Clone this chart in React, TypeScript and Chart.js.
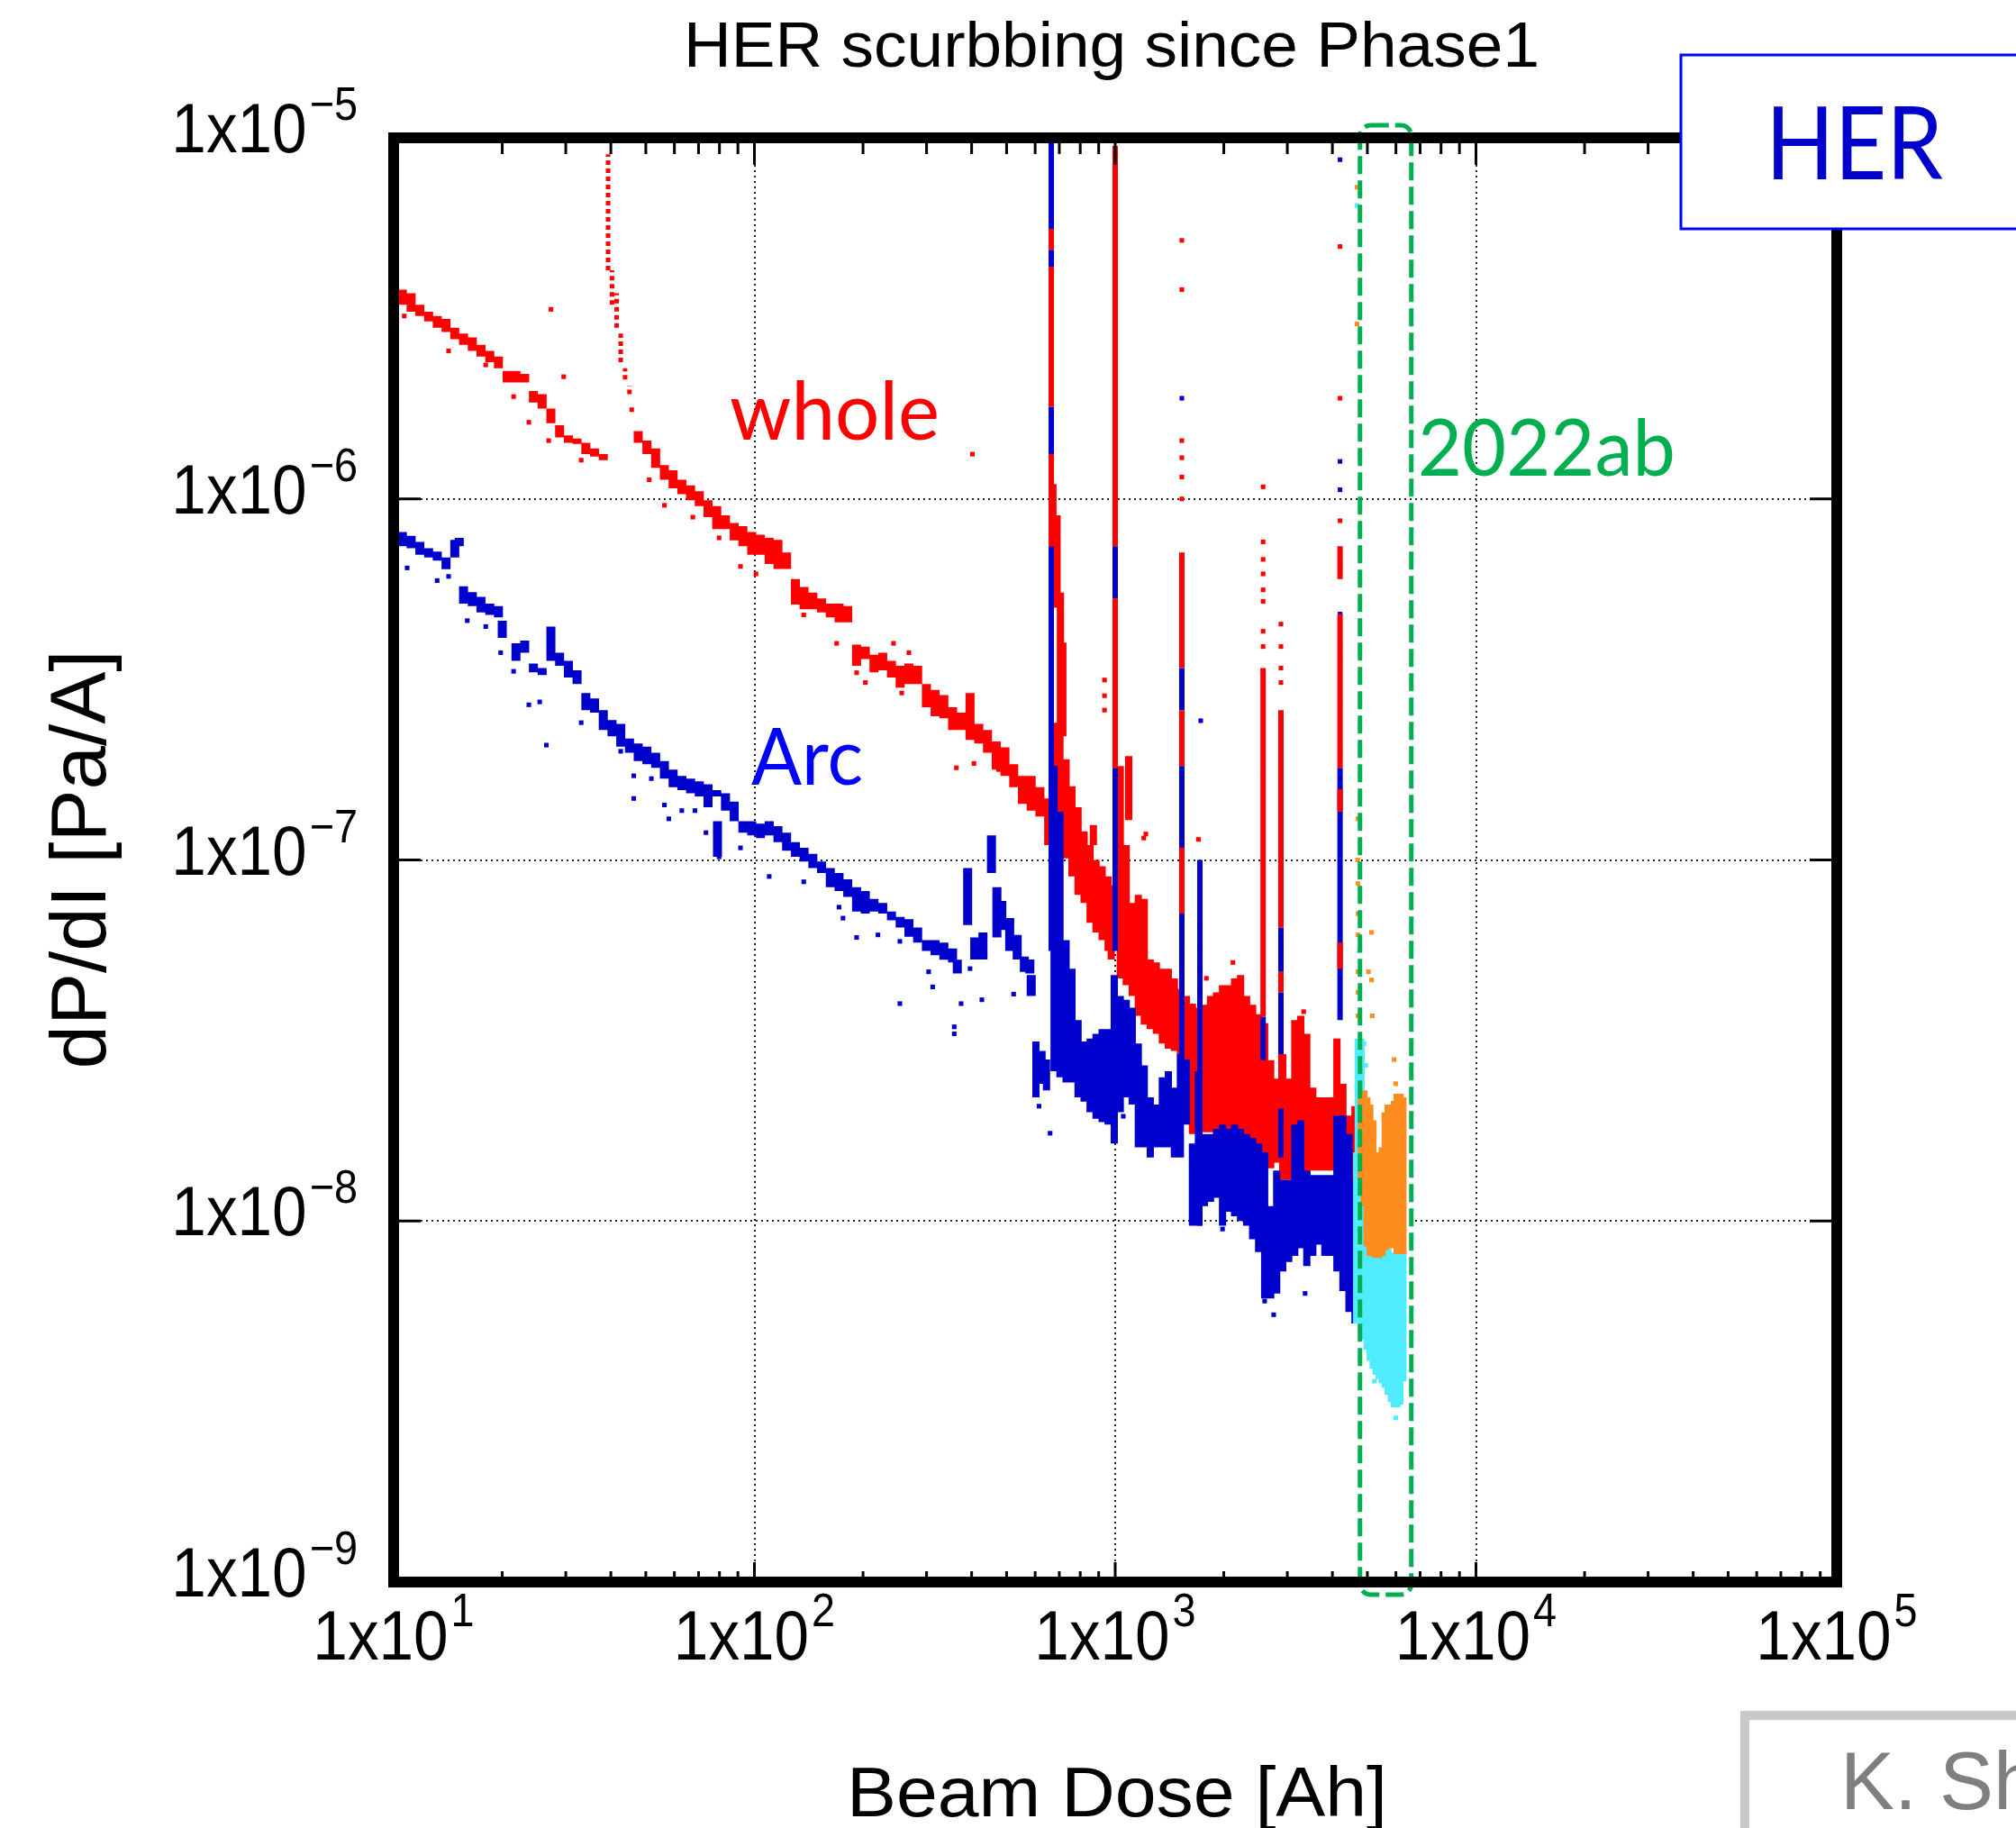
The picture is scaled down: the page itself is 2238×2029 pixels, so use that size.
import { useEffect, useRef } from 'react';
import { Chart, registerables } from 'chart.js';

Chart.register(...registerables);

// ---------------------------------------------------------------------------
// Axis ticks
// ---------------------------------------------------------------------------
const X_DECADES = [10, 100, 1000, 10000, 100000];
const X_EXPONENTS = ['1', '2', '3', '4', '5'];
const Y_DECADES = [1e-5, 1e-6, 1e-7, 1e-8, 1e-9];
const Y_EXPONENTS = ['\u22125', '\u22126', '\u22127', '\u22128', '\u22129'];
const MINOR_MULTIPLES = [2, 3, 4, 5, 6, 7, 8, 9];

// 2022ab run, beam dose range [Ah]
const RUN_2022AB: [number, number] = [4770, 6620];

// ---------------------------------------------------------------------------
// Measured dP/dI [Pa/A] vs beam dose [Ah]
// Bands are [dose, dP/dI low, dP/dI high]; dots are [dose, dP/dI].
// ---------------------------------------------------------------------------
type Band = [number, number, number];
type Dot = [number, number];

// whole ring, conditioning trend
const WHOLE_TREND: Band[] = [
  [10.0, 3.62e-6, 3.85e-6], [10.57, 3.45e-6, 3.8e-6], [11.18, 3.3e-6, 3.71e-6],
  [11.82, 3.21e-6, 3.45e-6], [12.5, 3.1e-6, 3.3e-6], [13.21, 2.98e-6, 3.21e-6],
  [13.97, 2.9e-6, 3.15e-6], [14.77, 2.77e-6, 2.98e-6], [15.62, 2.67e-6, 2.87e-6],
  [16.52, 2.57e-6, 2.8e-6], [17.46, 2.48e-6, 2.67e-6], [18.47, 2.39e-6, 2.57e-6],
  [19.52, 2.3e-6, 2.48e-6], [20.64, 2.1e-6, 2.26e-6], [21.83, 2.1e-6, 2.26e-6],
  [23.08, 2.1e-6, 2.22e-6], [24.4, 1.85e-6, 1.99e-6], [25.8, 1.78e-6, 1.95e-6],
  [27.28, 1.62e-6, 1.78e-6], [28.84, 1.48e-6, 1.6e-6], [30.5, 1.43e-6, 1.5e-6],
  [32.24, 1.42e-6, 1.47e-6], [34.1, 1.33e-6, 1.43e-6], [36.05, 1.31e-6, 1.38e-6],
  [38.11, 1.28e-6, 1.33e-6],
  [47.63, 1.43e-6, 1.54e-6], [50.35, 1.33e-6, 1.45e-6], [53.24, 1.22e-6, 1.38e-6],
  [56.29, 1.13e-6, 1.24e-6], [59.51, 1.07e-6, 1.2e-6], [62.92, 1.03e-6, 1.13e-6],
  [66.53, 9.92e-7, 1.09e-6], [70.34, 9.55e-7, 1.05e-6], [74.37, 8.9e-7, 9.92e-7],
  [78.63, 8.25e-7, 9.55e-7], [83.13, 8.25e-7, 9.0e-7], [87.9, 7.68e-7, 8.57e-7],
  [92.9, 7.4e-7, 8.4e-7], [98.3, 7.0e-7, 8.1e-7], [103.9, 7.0e-7, 7.96e-7],
  [109.9, 6.6e-7, 7.8e-7], [116.2, 6.4e-7, 7.7e-7], [122.8, 6.4e-7, 7.1e-7],
  [129.9, 5.1e-7, 6.0e-7], [137.3, 4.95e-7, 5.7e-7], [145.2, 4.95e-7, 5.5e-7],
  [153.5, 4.85e-7, 5.3e-7], [162.3, 4.7e-7, 5.13e-7], [171.6, 4.55e-7, 5.13e-7],
  [181.4, 4.55e-7, 5.05e-7], [191.9, 3.45e-7, 3.95e-7], [202.9, 3.6e-7, 3.9e-7],
  [214.5, 3.31e-7, 3.7e-7], [226.8, 3.35e-7, 3.75e-7], [239.8, 3.2e-7, 3.56e-7],
  [253.5, 3.0e-7, 3.45e-7], [268.1, 3.07e-7, 3.5e-7], [283.4, 3.07e-7, 3.45e-7],
  [299.7, 2.65e-7, 3.07e-7], [316.8, 2.5e-7, 2.96e-7], [335.0, 2.47e-7, 2.86e-7],
  [354.2, 2.29e-7, 2.65e-7], [374.5, 2.29e-7, 2.56e-7], [396, 2.15e-7, 2.9e-7],
  [418.7, 2.1e-7, 2.38e-7], [442.7, 1.98e-7, 2.29e-7], [468.1, 1.78e-7, 2.13e-7],
  [494.9, 1.71e-7, 2.05e-7], [523.3, 1.59e-7, 1.84e-7], [553.3, 1.43e-7, 1.71e-7],
  [585, 1.37e-7, 1.71e-7], [618.5, 1.32e-7, 1.59e-7], [654, 1.1e-7, 1.48e-7],
];

// whole ring, dense period after Phase 2 start
const WHOLE_BODY: Band[] = [
  [672, 5.5e-7, 1.1e-6], [677, 1.3e-7, 2.4e-7], [690, 5.0e-7, 9.0e-7],
  [703, 1.08e-7, 2.4e-7], [705, 2.4e-7, 5.5e-7], [716, 2.2e-7, 4.0e-7],
  [731, 1.01e-7, 1.9e-7], [759, 9.0e-8, 1.6e-7], [789, 8.0e-8, 1.4e-7],
  [820, 7.6e-8, 1.2e-7], [852, 6.7e-8, 1.1e-7], [870, 1.1e-7, 1.25e-7],
  [885, 6.3e-8, 1.0e-7], [920, 6.0e-8, 9.6e-8], [956, 5.6e-8, 9.0e-8],
  [975, 5.3e-8, 8.5e-8], [1033, 4.7e-8, 1.82e-7], [1073, 4.5e-8, 1.1e-7],
  [1090, 1.29e-7, 1.94e-7], [1115, 4.2e-8, 7.6e-8], [1159, 3.7e-8, 8.0e-8],
  [1204, 3.5e-8, 7.8e-8], [1251, 3.4e-8, 5.3e-8], [1300, 3.3e-8, 5.2e-8],
  [1351, 3.1e-8, 5.0e-8], [1404, 3.0e-8, 5.0e-8], [1459, 2.96e-8, 4.7e-8],
  [1516, 2.9e-8, 4.4e-8], [1575, 2.8e-8, 4.2e-8], [1637, 1.74e-8, 4.0e-8],
  [1701, 1.74e-8, 3.9e-8], [1768, 1.76e-8, 3.97e-8], [1837, 1.76e-8, 4.2e-8],
  [1909, 1.8e-8, 4.3e-8], [1984, 1.8e-8, 4.5e-8], [2062, 1.76e-8, 4.5e-8],
  [2142, 1.74e-8, 4.7e-8], [2226, 1.7e-8, 4.8e-8], [2313, 1.7e-8, 4.2e-8],
  [2404, 1.64e-8, 3.97e-8], [2498, 1.5e-8, 3.74e-8], [2596, 1.4e-8, 3.53e-8],
  [2698, 1.4e-8, 2.79e-8], [2803, 1.45e-8, 2.48e-8], [2913, 1.3e-8, 2.9e-8],
  [3027, 1.3e-8, 2.48e-8], [3146, 1.26e-8, 3.6e-8], [3269, 1.3e-8, 3.7e-8],
  [3397, 1.26e-8, 3.3e-8], [3530, 1.38e-8, 2.34e-8], [3668, 1.38e-8, 2.2e-8],
  [3812, 1.38e-8, 2.2e-8], [3962, 1.38e-8, 2.2e-8], [4117, 1.96e-8, 3.2e-8],
  [4278, 1.6e-8, 2.4e-8], [4446, 1.38e-8, 1.96e-8], [4620, 1.3e-8, 2.08e-8],
];

// whole ring, first burst near 40 Ah (sparse dotted streak)
const WHOLE_BURST_40: Band[] = [
  [39.3, 4.3e-6, 9.0e-6], [40.3, 3.45e-6, 4.3e-6], [41.5, 2.98e-6, 3.71e-6],
  [42.6, 2.39e-6, 2.87e-6], [43.8, 2.14e-6, 2.3e-6], [45.05, 1.95e-6, 2.06e-6],
  [45.7, 1.74e-6, 1.8e-6],
];

// whole ring, later pressure bursts (vertical streaks)
const WHOLE_SPIKES: Band[] = [
  [665, 4.9e-6, 5.6e-6], [665, 1.8e-6, 4.4e-6], [665, 7.4e-7, 1.33e-6],
  [1000, 7.4e-7, 9.5e-6], [1000, 1.8e-7, 5.3e-7],
  [1530, 3.4e-7, 7.1e-7], [1530, 1.82e-7, 2.6e-7], [1530, 7.1e-8, 1.08e-7],
  [2570, 3.68e-8, 3.4e-7],
  [2880, 6.5e-8, 2.6e-7], [2880, 4.3e-8, 4.9e-8], [2880, 2.05e-8, 2.9e-8],
  [4200, 6.0e-7, 7.4e-7], [4200, 1.8e-7, 4.8e-7], [4200, 1.36e-7, 1.57e-7],
  [4200, 5.0e-8, 5.9e-8],
];

const WHOLE_DOTS: Dot[] = [
  [10.7, 3.21e-6], [14.2, 2.57e-6], [18.0, 2.35e-6], [21.5, 1.92e-6], [23.7, 1.63e-6],
  [26.9, 1.45e-6], [27.3, 3.35e-6], [29.6, 2.18e-6], [33.1, 1.28e-6], [51.1, 1.13e-6],
  [56.3, 9.6e-7], [67.5, 8.9e-7], [79.8, 7.8e-7], [91.5, 6.5e-7], [101, 6.2e-7],
  [137, 4.77e-7], [169, 3.98e-7], [192, 3.3e-7], [203, 3.1e-7], [243, 3.98e-7],
  [256, 2.9e-7], [268, 3.75e-7], [363, 1.8e-7], [402, 1.33e-6], [406, 1.85e-7],
  [475, 1.78e-7], [934, 3.15e-7], [934, 2.85e-7], [934, 2.6e-7], [1200, 1.15e-7],
  [1216, 1.18e-7], [1530, 5.2e-6], [1530, 3.8e-6], [1530, 1.45e-6], [1530, 1.3e-6],
  [1530, 1.15e-6], [1530, 1.0e-6], [1701, 1.14e-7], [1790, 4.7e-8], [2120, 5.2e-8],
  [2570, 1.08e-6], [2570, 7.6e-7], [2570, 6.8e-7], [2570, 6.2e-7], [2570, 5.6e-7],
  [2570, 5.2e-7], [2570, 4.3e-7], [2570, 3.9e-7], [2880, 4.5e-7], [2880, 3.9e-7],
  [2880, 3.4e-7], [2880, 3.1e-7], [3330, 3.8e-8], [4200, 5.0e-6], [4200, 1.9e-6],
  [4200, 8.7e-7],
];

// arc section, conditioning trend
const ARC_TREND: Band[] = [
  [10.0, 7.8e-7, 8.5e-7], [10.57, 7.4e-7, 8.1e-7], [11.18, 7.3e-7, 7.9e-7],
  [11.82, 7.0e-7, 7.6e-7], [12.5, 6.88e-7, 7.3e-7], [13.21, 6.75e-7, 7.15e-7],
  [13.97, 6.39e-7, 6.88e-7], [14.77, 6.88e-7, 7.7e-7], [15.2, 7.4e-7, 7.8e-7],
  [15.62, 5.13e-7, 5.73e-7], [16.52, 5.05e-7, 5.52e-7], [17.46, 4.85e-7, 5.35e-7],
  [18.47, 4.77e-7, 5.13e-7], [19.52, 4.7e-7, 5.05e-7], [20.0, 4.12e-7, 4.6e-7],
  [21.83, 3.56e-7, 3.98e-7], [23.08, 3.75e-7, 4.05e-7], [24.4, 3.31e-7, 3.5e-7],
  [25.8, 3.25e-7, 3.4e-7], [27.28, 3.56e-7, 4.43e-7], [28.84, 3.45e-7, 3.75e-7],
  [30.5, 3.2e-7, 3.56e-7], [32.24, 3.07e-7, 3.35e-7], [34.1, 2.6e-7, 2.9e-7],
  [36.05, 2.56e-7, 2.8e-7], [38.11, 2.29e-7, 2.6e-7], [40.3, 2.2e-7, 2.44e-7],
  [42.61, 2.06e-7, 2.38e-7], [45.05, 1.98e-7, 2.17e-7], [47.63, 1.88e-7, 2.1e-7],
  [50.35, 1.84e-7, 2.06e-7], [53.24, 1.8e-7, 1.98e-7], [56.29, 1.68e-7, 1.88e-7],
  [59.51, 1.59e-7, 1.78e-7], [62.92, 1.56e-7, 1.71e-7], [66.53, 1.53e-7, 1.68e-7],
  [70.34, 1.5e-7, 1.65e-7], [74.37, 1.4e-7, 1.62e-7], [78.63, 1.5e-7, 1.56e-7],
  [79.0, 1.02e-7, 1.28e-7], [83.13, 1.37e-7, 1.53e-7], [87.9, 1.28e-7, 1.45e-7],
  [92.9, 1.19e-7, 1.28e-7], [98.3, 1.17e-7, 1.28e-7], [103.9, 1.15e-7, 1.26e-7],
  [109.9, 1.17e-7, 1.28e-7], [116.2, 1.12e-7, 1.24e-7], [122.8, 1.06e-7, 1.19e-7],
  [129.9, 1.02e-7, 1.12e-7], [137.3, 9.9e-8, 1.08e-7], [145.2, 9.5e-8, 1.04e-7],
  [153.5, 9.2e-8, 9.9e-8], [162.3, 8.4e-8, 9.5e-8], [171.6, 8.2e-8, 9.2e-8],
  [181.4, 7.9e-8, 8.84e-8], [191.9, 7.2e-8, 8.4e-8], [202.9, 7.1e-8, 8.2e-8],
  [214.5, 7.2e-8, 7.8e-8], [226.8, 7.1e-8, 7.6e-8], [239.8, 6.8e-8, 7.2e-8],
  [253.5, 6.5e-8, 6.95e-8], [268.1, 6.13e-8, 6.85e-8], [283.4, 5.9e-8, 6.5e-8],
  [299.7, 5.6e-8, 6.0e-8], [316.8, 5.45e-8, 6.0e-8], [335, 5.29e-8, 5.9e-8],
  [354.2, 5.2e-8, 5.69e-8], [365, 4.85e-8, 5.29e-8], [390, 6.6e-8, 9.5e-8],
  [408, 5.3e-8, 6.1e-8], [430, 5.3e-8, 6.3e-8], [454, 9.2e-8, 1.17e-7],
  [470, 6.1e-8, 8.4e-8], [485, 6.4e-8, 7.7e-8], [510, 5.6e-8, 6.9e-8],
  [535, 5.3e-8, 6.2e-8], [560, 4.9e-8, 5.4e-8], [580, 4.85e-8, 5.3e-8],
  [585, 4.2e-8, 4.8e-8],
];

const ARC_BODY: Band[] = [
  [603, 2.2e-8, 3.14e-8], [627, 2.4e-8, 2.96e-8], [645, 2.3e-8, 2.8e-8],
  [677, 2.6e-8, 1.82e-7], [703, 2.5e-8, 1.36e-7], [731, 2.42e-8, 6.0e-8],
  [759, 2.42e-8, 5.0e-8], [789, 2.2e-8, 3.6e-8], [820, 2.14e-8, 3.14e-8],
  [852, 2.0e-8, 3.2e-8], [885, 1.92e-8, 3.3e-8], [920, 1.88e-8, 3.4e-8],
  [956, 1.85e-8, 3.4e-8], [994, 1.64e-8, 4.8e-8], [1033, 2.0e-8, 4.2e-8],
  [1073, 2.2e-8, 4.1e-8], [1115, 2.1e-8, 3.9e-8], [1159, 1.6e-8, 3.1e-8],
  [1204, 1.6e-8, 2.7e-8], [1251, 1.5e-8, 2.2e-8], [1300, 1.6e-8, 2.1e-8],
  [1351, 1.6e-8, 2.5e-8], [1404, 1.6e-8, 2.6e-8], [1459, 1.5e-8, 2.34e-8],
  [1516, 1.5e-8, 2.9e-8], [1575, 1.85e-8, 2.8e-8], [1637, 9.7e-9, 1.64e-8],
  [1701, 9.7e-9, 2.6e-8], [1768, 1.1e-8, 1.74e-8], [1837, 1.13e-8, 1.74e-8],
  [1909, 1.16e-8, 1.8e-8], [1984, 9.7e-9, 1.85e-8], [2062, 1.06e-8, 1.8e-8],
  [2142, 1.03e-8, 1.85e-8], [2226, 1.0e-8, 1.8e-8], [2313, 9.7e-9, 1.74e-8],
  [2404, 8.9e-9, 1.7e-8], [2498, 8.2e-9, 1.64e-8], [2596, 6.1e-9, 1.55e-8],
  [2698, 6.1e-9, 1.1e-8], [2803, 6.3e-9, 1.38e-8], [2913, 7.25e-9, 1.3e-8],
  [3027, 7.7e-9, 1.3e-8], [3146, 8.0e-9, 1.85e-8], [3269, 8.4e-9, 1.9e-8],
  [3397, 7.5e-9, 1.38e-8], [3530, 8.0e-9, 1.34e-8], [3668, 8.6e-9, 1.34e-8],
  [3812, 8.0e-9, 1.34e-8], [3962, 8.0e-9, 1.34e-8], [4117, 7.25e-9, 1.96e-8],
  [4278, 6.4e-9, 1.96e-8], [4446, 5.6e-9, 1.74e-8], [4620, 5.2e-9, 1.3e-8],
];

const ARC_SPIKES: Band[] = [
  [665, 5.6e-6, 1.0e-5], [665, 4.4e-6, 4.9e-6], [665, 1.33e-6, 1.8e-6],
  [665, 5.6e-8, 7.4e-7],
  [1000, 5.3e-7, 7.4e-7], [1000, 5.6e-8, 1.8e-7],
  [1530, 2.6e-7, 3.4e-7], [1530, 1.08e-7, 1.82e-7], [1530, 2.79e-8, 7.1e-8],
  [1717, 9.7e-9, 1.0e-7],
  [2570, 2.79e-8, 3.68e-8],
  [2880, 4.9e-8, 6.5e-8], [2880, 2.9e-8, 4.3e-8], [2880, 1.5e-8, 2.05e-8],
  [4200, 3.6e-8, 1.8e-7],
];

const ARC_DOTS: Dot[] = [
  [10.9, 6.44e-7], [13.2, 5.94e-7], [14.2, 6.1e-7], [16.0, 4.6e-7], [18.0, 4.43e-7],
  [19.8, 3.75e-7], [21.5, 3.33e-7], [23.7, 2.69e-7], [25.4, 2.74e-7], [26.5, 2.08e-7],
  [33.1, 2.4e-7], [42.6, 2.0e-7], [46.3, 1.71e-7], [46.3, 1.48e-7], [51.8, 1.68e-7],
  [56.3, 1.42e-7], [57.9, 1.3e-7], [62.9, 1.37e-7], [68.4, 1.37e-7], [73.4, 1.19e-7],
  [79.8, 1.02e-7], [91.5, 1.08e-7], [109.9, 9.0e-8], [137, 8.7e-8], [171.6, 7.4e-8],
  [176, 6.9e-8], [192, 6.1e-8], [220, 6.2e-8], [253, 5.95e-8], [253, 4.0e-8],
  [304, 4.9e-8], [312, 4.45e-8], [358, 3.3e-8], [358, 3.45e-8], [374, 4.0e-8],
  [396, 5.0e-8], [427, 4.1e-8], [523, 4.25e-8], [615, 2.08e-8], [660, 1.75e-8],
  [1053, 1.95e-8], [1530, 1.9e-6], [1726, 2.43e-7], [1984, 9.5e-9], [2596, 6.0e-9],
  [2750, 5.5e-9], [3360, 6.3e-9], [4200, 8.7e-6], [4200, 1.27e-6], [4200, 1.06e-6],
  [4200, 6.6e-7], [4200, 4.8e-7], [4200, 4.0e-7], [4200, 3.55e-7], [4200, 2.7e-7],
  [4200, 2.0e-7],
];

// 2022ab run, whole ring
const AB_WHOLE_BODY: Band[] = [
  [4850, 1.3e-8, 2.3e-8], [4940, 1.1e-8, 2.2e-8], [5035, 8.5e-9, 2.1e-8],
  [5135, 8.0e-9, 1.9e-8], [5235, 8.0e-9, 1.55e-8], [5335, 7.9e-9, 1.5e-8],
  [5440, 8.0e-9, 1.5e-8], [5545, 8.3e-9, 1.6e-8], [5650, 8.4e-9, 2.0e-8],
  [5760, 8.6e-9, 2.1e-8], [5875, 8.6e-9, 2.1e-8], [5990, 8.4e-9, 2.15e-8],
  [6100, 8.1e-9, 2.25e-8], [6220, 8.1e-9, 2.2e-8],
];

const AB_WHOLE_DOTS: Dot[] = [
  [4680, 7.3e-6], [4680, 3.05e-6], [4700, 1.0e-7], [4711, 1.3e-7], [4711, 8.6e-8],
  [4711, 7.1e-8], [4711, 6.2e-8], [4711, 4.9e-8], [4711, 4.3e-8], [4711, 3.7e-8],
  [5035, 4.9e-8], [5135, 6.3e-8], [5135, 4.65e-8], [5160, 3.7e-8], [5930, 2.8e-8],
  [5990, 2.4e-8],
];

// 2022ab run, arc section
const AB_ARC_BODY: Band[] = [
  [4711, 5.2e-9, 1.55e-8], [4760, 5.4e-9, 3.2e-8], [4801, 5.4e-9, 1.55e-8],
  [4850, 5.0e-9, 1.3e-8], [4940, 4.7e-9, 1.2e-8], [5035, 4.4e-9, 1.1e-8],
  [5135, 4.1e-9, 1.05e-8], [5235, 3.9e-9, 9.5e-9], [5335, 3.75e-9, 8.8e-9],
  [5440, 3.65e-9, 8.4e-9], [5545, 3.55e-9, 8.4e-9], [5650, 3.45e-9, 8.4e-9],
  [5760, 3.3e-9, 8.2e-9], [5875, 3.15e-9, 8.2e-9], [5990, 3.05e-9, 8.2e-9],
  [6100, 3.1e-9, 8.2e-9], [6220, 3.6e-9, 8.2e-9],
];

const AB_ARC_DOTS: Dot[] = [
  [4680, 6.5e-6], [4750, 5.6e-8], [4894, 3.1e-8], [4950, 2.7e-8], [5230, 3.6e-9],
  [5990, 2.85e-9],
];

// ---------------------------------------------------------------------------
// Colours and fonts
// ---------------------------------------------------------------------------
const RED = '#ff0000';
const BLUE = '#0000cc';
const ORANGE = '#ff8c1e';
const CYAN = '#50ebff';
const GREEN = '#00b050';
const SANS = '"Liberation Sans", Arial, Helvetica, sans-serif';
const LABEL_FONT = 'Lato, "Open Sans", sans-serif';

// ---------------------------------------------------------------------------
// Dataset builders: each band becomes a vertical stroke, gaps split the strokes
// ---------------------------------------------------------------------------
function bandPoints(bands: Band[]) {
  const pts: { x: number; y: number | null }[] = [];
  for (const [x, lo, hi] of bands) {
    pts.push({ x, y: lo }, { x, y: hi }, { x, y: null });
  }
  return pts;
}

function bandSet(
  label: string,
  bands: Band[],
  color: string,
  width: number,
  order: number,
  dash: number[] = [],
) {
  return {
    label,
    data: bandPoints(bands),
    showLine: true,
    spanGaps: false,
    borderColor: color,
    backgroundColor: color,
    borderWidth: width,
    borderDash: dash,
    borderCapStyle: 'butt' as const,
    pointRadius: 0,
    pointHoverRadius: 0,
    pointHitRadius: 0,
    tension: 0,
    order,
  };
}

function dotSet(label: string, dots: Dot[], color: string, order: number) {
  return {
    label,
    data: dots.map(([x, y]) => ({ x, y })),
    showLine: false,
    pointStyle: 'rect' as const,
    pointRadius: 3.6,
    pointHoverRadius: 3.6,
    pointBorderWidth: 0,
    pointBackgroundColor: color,
    backgroundColor: color,
    borderColor: color,
    order,
  };
}

// ---------------------------------------------------------------------------
// Text helpers
// ---------------------------------------------------------------------------
function drawText(
  ctx: CanvasRenderingContext2D,
  text: string,
  x: number,
  y: number,
  font: string,
  color: string,
  align: 'left' | 'center' | 'right',
  width?: number,
) {
  ctx.save();
  ctx.font = font;
  ctx.fillStyle = color;
  ctx.textBaseline = 'alphabetic';
  ctx.textAlign = 'left';
  const natural = ctx.measureText(text).width;
  const sx = width ? width / natural : 1;
  const w = natural * sx;
  const left = align === 'left' ? x : align === 'center' ? x - w / 2 : x - w;
  ctx.translate(left, y);
  ctx.scale(sx, 1);
  ctx.fillText(text, 0, 0);
  ctx.restore();
}

const TICK_MAIN_FONT = `77px ${SANS}`;
const TICK_SUP_FONT = `52px ${SANS}`;
const TICK_SX = 0.9;

function drawPower(
  ctx: CanvasRenderingContext2D,
  exp: string,
  anchorX: number,
  mainBase: number,
  supBase: number,
  align: 'center' | 'right',
) {
  ctx.save();
  ctx.font = TICK_MAIN_FONT;
  const wMain = ctx.measureText('1x10').width * TICK_SX;
  ctx.font = TICK_SUP_FONT;
  const wSup = ctx.measureText(exp).width * TICK_SX;
  ctx.restore();
  const gap = 3;
  const total = wMain + gap + wSup;
  const left = align === 'center' ? anchorX - total / 2 : anchorX - total;
  drawText(ctx, '1x10', left, mainBase, TICK_MAIN_FONT, '#000', 'left', wMain);
  drawText(ctx, exp, left + wMain + gap, supBase, TICK_SUP_FONT, '#000', 'left', wSup);
}

function roundRectPath(ctx: CanvasRenderingContext2D, x: number, y: number, w: number, h: number, r: number) {
  ctx.beginPath();
  ctx.moveTo(x + r, y);
  ctx.lineTo(x + w - r, y);
  ctx.arcTo(x + w, y, x + w, y + r, r);
  ctx.lineTo(x + w, y + h - r);
  ctx.arcTo(x + w, y + h, x + w - r, y + h, r);
  ctx.lineTo(x + r, y + h);
  ctx.arcTo(x, y + h, x, y + h - r, r);
  ctx.lineTo(x, y + r);
  ctx.arcTo(x, y, x + r, y, r);
  ctx.closePath();
}

// ---------------------------------------------------------------------------
// Plot decorations: grid, frame, ticks, labels and annotation boxes
// ---------------------------------------------------------------------------
const decorations = {
  id: 'plotDecorations',
  beforeDraw(chart: Chart) {
    const { ctx, width, height } = chart;
    ctx.save();
    ctx.fillStyle = '#ffffff';
    ctx.fillRect(0, 0, width, height);
    ctx.restore();
  },
  beforeDatasetsDraw(chart: Chart) {
    const { ctx, chartArea } = chart;
    const xs = chart.scales.x;
    const ys = chart.scales.y;
    ctx.save();
    ctx.strokeStyle = '#222222';
    ctx.lineWidth = 2;
    ctx.setLineDash([2, 4]);
    for (const v of X_DECADES.slice(1, -1)) {
      const px = Math.round(xs.getPixelForValue(v));
      ctx.beginPath();
      ctx.moveTo(px, chartArea.top);
      ctx.lineTo(px, chartArea.bottom);
      ctx.stroke();
    }
    for (const v of Y_DECADES.slice(1, -1)) {
      const py = Math.round(ys.getPixelForValue(v));
      ctx.beginPath();
      ctx.moveTo(chartArea.left, py);
      ctx.lineTo(chartArea.right, py);
      ctx.stroke();
    }
    ctx.restore();
  },
  afterDatasetsDraw(chart: Chart) {
    const { ctx, chartArea } = chart;
    const { left, right, top, bottom } = chartArea;
    const xs = chart.scales.x;
    const ys = chart.scales.y;

    // 2022ab run marker
    const bx1 = xs.getPixelForValue(RUN_2022AB[0]);
    const bx2 = xs.getPixelForValue(RUN_2022AB[1]);
    ctx.save();
    ctx.strokeStyle = GREEN;
    ctx.lineWidth = 5;
    ctx.setLineDash([20, 7]);
    roundRectPath(ctx, bx1, top - 14, bx2 - bx1, bottom - top + 28, 12);
    ctx.stroke();
    ctx.restore();

    // frame
    ctx.save();
    ctx.strokeStyle = '#000';
    ctx.lineWidth = 12;
    ctx.lineJoin = 'miter';
    ctx.strokeRect(left, top, right - left, bottom - top);

    // ticks (inward)
    ctx.lineWidth = 3;
    ctx.beginPath();
    for (let d = 0; d < X_DECADES.length; d++) {
      const px = xs.getPixelForValue(X_DECADES[d]);
      ctx.moveTo(px, top);
      ctx.lineTo(px, top + 30);
      ctx.moveTo(px, bottom);
      ctx.lineTo(px, bottom - 22);
      if (d < X_DECADES.length - 1) {
        for (const m of MINOR_MULTIPLES) {
          const mx = xs.getPixelForValue(X_DECADES[d] * m);
          ctx.moveTo(mx, top);
          ctx.lineTo(mx, top + 18);
          ctx.moveTo(mx, bottom);
          ctx.lineTo(mx, bottom - 12);
        }
      }
    }
    for (const v of Y_DECADES) {
      const py = ys.getPixelForValue(v);
      ctx.moveTo(left, py);
      ctx.lineTo(left + 30, py);
      ctx.moveTo(right, py);
      ctx.lineTo(right - 30, py);
    }
    ctx.stroke();
    ctx.restore();

    // tick labels
    X_DECADES.forEach((v, i) => {
      drawPower(ctx, X_EXPONENTS[i], xs.getPixelForValue(v), bottom + 86, bottom + 49, 'center');
    });
    Y_DECADES.forEach((v, i) => {
      const py = ys.getPixelForValue(v);
      drawPower(ctx, Y_EXPONENTS[i], left - 40, py + 16, py - 20, 'right');
    });

    // titles
    drawText(ctx, 'HER scurbbing since Phase1', 1234, 74, `70px ${SANS}`, '#000', 'center', 950);
    drawText(ctx, 'Beam Dose [Ah]', 1240, 2016, `77px ${SANS}`, '#000', 'center', 600);
    ctx.save();
    ctx.translate(117, 954);
    ctx.rotate(-Math.PI / 2);
    drawText(ctx, 'dP/dI [Pa/A]', 0, 0, `88px ${SANS}`, '#000', 'center', 465);
    ctx.restore();

    // series labels
    drawText(ctx, 'whole', 810, 488, `90px ${LABEL_FONT}`, RED, 'left', 233);
    drawText(ctx, 'Arc', 834, 871, `88px ${LABEL_FONT}`, '#0000ff', 'left', 124);
    drawText(ctx, '2022ab', 1574, 528, `88px ${LABEL_FONT}`, GREEN, 'left', 286);

    // ring name box
    ctx.save();
    ctx.fillStyle = '#ffffff';
    ctx.fillRect(1866, 61, 400, 193);
    ctx.strokeStyle = '#0000ff';
    ctx.lineWidth = 3;
    ctx.strokeRect(1866, 61, 400, 193);
    ctx.restore();
    drawText(ctx, 'HER', 1960, 199, `112px ${LABEL_FONT}`, '#0000cc', 'left', 197);

    // credit box
    ctx.save();
    ctx.fillStyle = '#ffffff';
    ctx.fillRect(1937, 1904, 400, 200);
    ctx.strokeStyle = '#c8c8c8';
    ctx.lineWidth = 10;
    ctx.strokeRect(1937, 1904, 400, 200);
    ctx.restore();
    drawText(ctx, 'K. Sh', 2043, 2008, `90px ${SANS}`, '#7f7f7f', 'left');
  },
};

export default function App() {
  const canvasRef = useRef<HTMLCanvasElement>(null);

  useEffect(() => {
    const canvas = canvasRef.current;
    if (!canvas) return;
    const chart = new Chart(canvas, {
      type: 'scatter',
      data: {
        datasets: [
          bandSet('whole', WHOLE_SPIKES, RED, 6, 1),
          bandSet('whole', WHOLE_BURST_40, RED, 5, 1, [5, 4]),
          bandSet('Arc', ARC_SPIKES, BLUE, 6, 2),
          bandSet('2022ab whole', AB_WHOLE_BODY, ORANGE, 11, 3),
          dotSet('2022ab whole', AB_WHOLE_DOTS, ORANGE, 3),
          bandSet('2022ab Arc', AB_ARC_BODY, CYAN, 11, 4),
          dotSet('2022ab Arc', AB_ARC_DOTS, CYAN, 4),
          dotSet('Arc', ARC_DOTS, BLUE, 5),
          bandSet('Arc', ARC_TREND, BLUE, 10, 6),
          bandSet('Arc', ARC_BODY, BLUE, 8, 6),
          dotSet('whole', WHOLE_DOTS, RED, 7),
          bandSet('whole', WHOLE_TREND, RED, 10, 8),
          bandSet('whole', WHOLE_BODY, RED, 8, 8),
        ] as any,
      },
      options: {
        animation: false,
        responsive: false,
        devicePixelRatio: 1,
        events: [],
        layout: { padding: { left: 437, top: 153, right: 199, bottom: 273 } },
        plugins: {
          legend: { display: false },
          tooltip: { enabled: false },
          title: { display: false },
        },
        scales: {
          x: { type: 'logarithmic', min: 10, max: 100000, display: false },
          y: { type: 'logarithmic', min: 1e-9, max: 1e-5, display: false },
        },
      },
      plugins: [decorations as any],
    });
    return () => chart.destroy();
  }, []);

  return (
    <canvas
      ref={canvasRef}
      width={2238}
      height={2029}
      style={{ position: 'absolute', left: 0, top: 0, width: '2238px', height: '2029px' }}
    />
  );
}
